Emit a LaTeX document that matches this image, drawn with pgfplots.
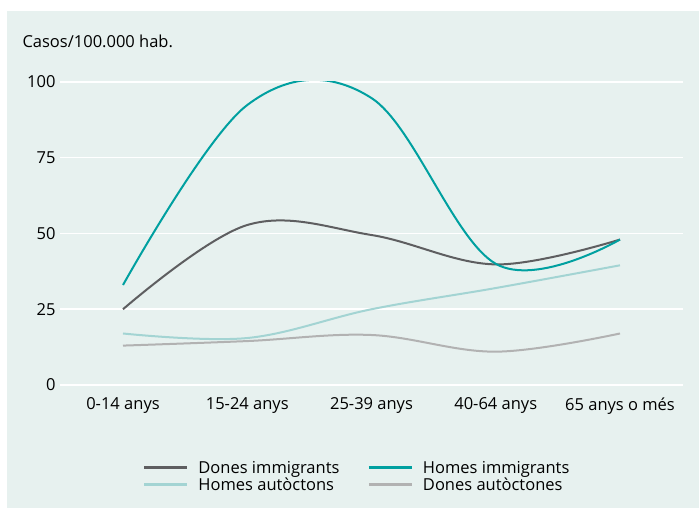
\documentclass[border=0pt]{standalone}
\usepackage{pgfplots}
\pgfplotsset{compat=1.18}
\usepackage{fontspec}
\setmainfont{Open Sans}

\definecolor{bgpanel}{HTML}{E7F1EF}
\definecolor{donesimm}{HTML}{5E5E60}
\definecolor{homesimm}{HTML}{00A0A0}
\definecolor{homesaut}{HTML}{A3D4D3}
\definecolor{donesaut}{HTML}{B2B2B2}

\begin{document}
\begin{tikzpicture}
  % canvas (axis origin = bottom left of the plot area)
  \path[fill=white] (-60pt,-123pt) rectangle (639pt,385pt);
  \path[fill=bgpanel] (-53pt,-123pt) rectangle (639pt,374pt);
  \node[anchor=base west,font=\fontsize{16.5}{19}\selectfont] at (-41pt,337pt) {Casos/100.000 hab.};
  \begin{axis}[
      at={(0pt,0pt)}, anchor=south west,
      scale only axis,
      width=623pt, height=303pt,
      xmin=-0.507, xmax=4.507,
      ymin=0, ymax=100,
      xtick={0,1,2,3,4},
      xticklabels={0-14 anys,15-24 anys,25-39 anys,40-64 anys,65 anys o més},
      ytick={0,25,50,75,100},
      ymajorgrids,
      grid style={white, line width=1.5pt},
      axis line style={draw=none},
      major tick length=0pt,
      tick label style={font=\fontsize{16.5}{19}\selectfont},
      /pgf/number format/assume math mode=true,
      yticklabel style={xshift=-1pt},
      xticklabel style={yshift=-9pt},
      legend columns=2,
      legend cell align=left,
      legend style={draw=none, fill=none,
        at={(0.477,-0.302)}, anchor=center,
        font=\fontsize{16.5}{19}\selectfont,
        /tikz/every even column/.append style={column sep=26pt},
        row sep=-1pt},
      legend image code/.code={\draw[#1, line width=3pt] (0pt,0pt) -- (43pt,0pt); \path (51pt,0pt);},
      every axis plot/.append style={line width=2pt, smooth, tension=0.6},
    ]
    \addplot[donesimm] coordinates {(0,25) (1,52.8) (2,49.5) (3,39.8) (4,48)};
    \addplot[homesimm] coordinates {(0,33) (1,92.4) (2,94.7) (3,40) (4,48)};
    \addplot[homesaut] coordinates {(0,17) (1,15.5) (2,25) (3,32) (4,39.5)};
    \addplot[donesaut] coordinates {(0,13) (1,14.5) (2,16.5) (3,11) (4,17)};
    \legend{Dones immigrants, Homes immigrants, Homes autòctons, Dones autòctones}
  \end{axis}
\end{tikzpicture}
\end{document}
